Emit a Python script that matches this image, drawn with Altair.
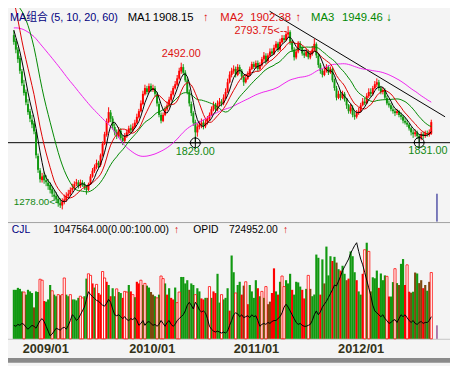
import altair as alt
import pandas as pd

W, H = 450, 358
SX, SY = W / 458, H / 366

# ---------------- data (weekly bars) ----------------
# closes of the weeks before the first visible bar (only feed the moving averages)
pre_closes = [2560, 2590, 2620, 2600, 2650, 2700, 2680, 2720, 2760, 2740,
              2780, 2800, 2770, 2740, 2700, 2720, 2680, 2650, 2620, 2640,
              2600, 2580, 2610, 2650, 2690, 2720, 2700, 2680, 2660, 2700,
              2740, 2760, 2730, 2700, 2680, 2650, 2670, 2700, 2720, 2690,
              2660, 2700, 2760, 2820, 2880,
              2950, 3000, 3100, 3200, 3300, 3350, 3350, 3300, 3200, 3050,
              2900, 2800, 2740, 2700]

opens = [2720, 2670, 2600, 2530, 2420, 2310, 2250, 2150, 2090, 2020,
         1990, 1920, 1720, 1600, 1520, 1560, 1520, 1500, 1480, 1445,
         1400, 1390, 1365, 1330, 1310, 1340, 1355, 1390, 1405, 1440,
         1450, 1490, 1500, 1470, 1500, 1490, 1465, 1440, 1485, 1550,
         1595, 1625, 1665, 1645, 1725, 1820, 1895, 2000, 2080, 2030,
         1960, 1915, 1880, 1930, 1870, 1845, 1880, 1915, 1950, 1930,
         1960, 1995, 2040, 2090, 2150, 2230, 2280, 2250, 2300, 2265,
         2280, 2230, 2150, 2060, 2010, 2060, 2105, 2135, 2185, 2230,
         2280, 2310, 2360, 2420, 2455, 2410, 2345, 2250, 2150, 2075,
         2000, 1915, 1960, 1975, 1995, 1965, 1995, 2025, 2060, 2105,
         2140, 2105, 2150, 2170, 2155, 2200, 2250, 2330, 2390, 2420,
         2440, 2390, 2455, 2425, 2375, 2330, 2360, 2390, 2440, 2480,
         2455, 2490, 2440, 2470, 2520, 2550, 2505, 2550, 2585, 2565,
         2615, 2650, 2600, 2660, 2695, 2680, 2725, 2745, 2665, 2600,
         2535, 2585, 2650, 2615, 2570, 2550, 2585, 2535, 2565, 2600,
         2645, 2550, 2475, 2425, 2390, 2425, 2455, 2410, 2440, 2345,
         2280, 2200, 2235, 2200, 2235, 2185, 2140, 2090, 2120, 2060,
         2045, 2075, 2090, 2140, 2170, 2155, 2215, 2250, 2235, 2280,
         2310, 2330, 2280, 2250, 2265, 2200, 2155, 2140, 2105, 2090,
         2075, 2090, 2060, 2045, 2010, 1995, 1980, 1950, 1915, 1900,
         1915, 1885, 1870, 1900, 1885, 1910, 1900, 1905]

highs = [2760, 2690, 2620, 2550, 2440, 2350, 2270, 2190, 2110, 2060,
         2010, 1940, 1740, 1620, 1580, 1590, 1560, 1530, 1500, 1470,
         1440, 1420, 1390, 1370, 1370, 1400, 1420, 1440, 1460, 1490,
         1510, 1530, 1520, 1525, 1520, 1505, 1480, 1500, 1570, 1620,
         1650, 1690, 1680, 1740, 1840, 1920, 2030, 2123, 2100, 2050,
         1990, 1940, 1960, 1950, 1890, 1910, 1940, 1970, 1980, 1990,
         2020, 2070, 2110, 2180, 2260, 2310, 2300, 2320, 2320, 2310,
         2300, 2250, 2170, 2080, 2080, 2130, 2170, 2210, 2260, 2300,
         2340, 2390, 2450, 2492, 2480, 2430, 2360, 2270, 2170, 2090,
         2020, 1990, 2010, 2030, 2020, 2020, 2050, 2080, 2130, 2170,
         2160, 2180, 2200, 2190, 2230, 2280, 2360, 2420, 2450, 2470,
         2460, 2480, 2475, 2440, 2390, 2390, 2420, 2460, 2500, 2500,
         2510, 2510, 2495, 2540, 2580, 2570, 2570, 2610, 2610, 2640,
         2670, 2665, 2690, 2720, 2720, 2750, 2793.75, 2760, 2680, 2620,
         2610, 2670, 2670, 2630, 2600, 2610, 2600, 2590, 2630, 2690,
         2660, 2570, 2490, 2440, 2450, 2480, 2470, 2460, 2450, 2360,
         2300, 2260, 2260, 2260, 2250, 2200, 2150, 2150, 2140, 2090,
         2100, 2120, 2160, 2200, 2200, 2240, 2280, 2280, 2300, 2340,
         2362, 2350, 2300, 2290, 2280, 2220, 2180, 2160, 2130, 2110,
         2110, 2100, 2080, 2060, 2040, 2020, 1990, 1960, 1940, 1940,
         1930, 1900, 1920, 1920, 1930, 1930, 1940, 2020]

lows = [2640, 2570, 2490, 2400, 2300, 2220, 2140, 2060, 2000, 1950,
        1900, 1700, 1580, 1500, 1500, 1490, 1470, 1440, 1410, 1380,
        1350, 1330, 1300, 1290, 1278, 1320, 1340, 1370, 1390, 1420,
        1440, 1470, 1450, 1455, 1465, 1440, 1400, 1430, 1480, 1540,
        1580, 1610, 1620, 1630, 1715, 1810, 1880, 1990, 2000, 1940,
        1890, 1860, 1870, 1850, 1810, 1830, 1870, 1900, 1910, 1920,
        1950, 1985, 2030, 2080, 2140, 2220, 2230, 2240, 2250, 2250,
        2210, 2130, 2040, 1990, 2000, 2050, 2090, 2120, 2170, 2220,
        2270, 2300, 2350, 2400, 2390, 2330, 2230, 2130, 2050, 1970,
        1829, 1880, 1940, 1950, 1940, 1950, 1980, 2010, 2050, 2090,
        2080, 2090, 2130, 2130, 2140, 2190, 2240, 2320, 2370, 2400,
        2370, 2380, 2400, 2350, 2300, 2320, 2350, 2380, 2430, 2440,
        2440, 2420, 2430, 2460, 2500, 2480, 2490, 2540, 2550, 2555,
        2600, 2580, 2590, 2650, 2660, 2670, 2700, 2640, 2580, 2510,
        2520, 2570, 2600, 2550, 2530, 2540, 2520, 2520, 2550, 2590,
        2530, 2450, 2400, 2370, 2380, 2410, 2390, 2400, 2330, 2260,
        2180, 2190, 2180, 2190, 2170, 2110, 2070, 2070, 2040, 2020,
        2030, 2060, 2080, 2130, 2140, 2150, 2200, 2210, 2220, 2270,
        2290, 2260, 2230, 2230, 2190, 2140, 2120, 2090, 2070, 2050,
        2060, 2040, 2020, 1990, 1980, 1960, 1930, 1890, 1870, 1880,
        1860, 1831, 1850, 1860, 1870, 1880, 1880, 1895]

closes = [2664, 2600, 2521, 2425, 2322, 2242, 2163, 2083, 2028, 1980,
          1924, 1726, 1606, 1527, 1551, 1519, 1503, 1471, 1439, 1408,
          1384, 1360, 1328, 1312, 1344, 1360, 1392, 1408, 1439, 1455,
          1487, 1503, 1471, 1503, 1487, 1463, 1439, 1487, 1551, 1598,
          1630, 1662, 1646, 1726, 1821, 1900, 2004, 2083, 2028, 1964,
          1916, 1885, 1932, 1869, 1845, 1885, 1916, 1948, 1932, 1964,
          1996, 2044, 2091, 2155, 2234, 2282, 2250, 2298, 2266, 2282,
          2234, 2155, 2060, 2012, 2060, 2107, 2139, 2187, 2234, 2282,
          2314, 2362, 2425, 2457, 2409, 2346, 2250, 2155, 2075, 1996,
          1916, 1964, 1980, 1996, 1964, 1996, 2028, 2060, 2107, 2139,
          2107, 2155, 2171, 2155, 2203, 2250, 2330, 2393, 2425, 2441,
          2393, 2457, 2425, 2378, 2330, 2362, 2393, 2441, 2481, 2457,
          2489, 2441, 2473, 2521, 2552, 2504, 2552, 2584, 2568, 2616,
          2648, 2600, 2664, 2696, 2680, 2728, 2743, 2664, 2600, 2537,
          2584, 2648, 2616, 2568, 2552, 2584, 2537, 2568, 2600, 2648,
          2552, 2473, 2425, 2393, 2425, 2457, 2409, 2441, 2346, 2282,
          2203, 2234, 2203, 2234, 2187, 2139, 2091, 2123, 2060, 2044,
          2075, 2091, 2139, 2171, 2155, 2218, 2250, 2234, 2282, 2314,
          2330, 2282, 2250, 2266, 2203, 2155, 2139, 2107, 2091, 2075,
          2091, 2060, 2044, 2012, 1996, 1980, 1948, 1916, 1900, 1916,
          1885, 1869, 1900, 1885, 1908, 1900, 1916, 2000]

# volume (thousand lots) and how each volume bar is drawn
volume_k = [774, 774, 805, 789, 749, 739, 698, 774, 749, 723,
            496, 749, 739, 941, 926, 597, 587, 622, 850, 759,
            698, 673, 698, 688, 698, 961, 698, 673, 698, 622,
            622, 607, 647, 673, 647, 673, 951, 1027, 1002, 875,
            810, 860, 723, 698, 1063, 961, 901, 850, 673, 799,
            673, 789, 739, 723, 647, 749, 739, 850, 749, 698,
            658, 901, 875, 926, 850, 875, 840, 810, 739, 698,
            673, 647, 698, 992, 951, 875, 698, 799, 647, 622,
            810, 572, 739, 977, 977, 875, 926, 774, 875, 850,
            698, 799, 749, 638, 622, 647, 647, 825, 647, 749,
            723, 1027, 572, 698, 622, 647, 799, 445, 1316, 1052,
            724, 850, 901, 698, 840, 901, 547, 850, 749, 647,
            926, 799, 673, 749, 647, 825, 547, 587, 724, 1113,
            749, 698, 901, 992, 825, 926, 875, 1027, 774, 698,
            901, 891, 825, 774, 638, 789, 1002, 789, 673, 700,
            1331, 1280, 698, 1255, 875, 1457, 1002, 1305, 1230, 1295,
            1204, 1100, 1078, 1154, 1027, 926, 951, 1381, 1305, 1052,
            926, 749, 698, 1027, 1407, 1518, 1381, 749, 972, 956,
            1078, 805, 1032, 926, 1002, 987, 668, 668, 896, 1108,
            880, 850, 1184, 1260, 850, 1169, 744, 729, 744, 1047,
            1032, 880, 926, 800, 850, 760, 900, 1047]

# G green, H hollow red, R filled red, B brown
volume_kind = list("GGGGGHGGGG" "BGGHHRGGGH" "GGHBHHGGHG" "GGGHHGGHHR"
                   "GHRRHHRGRG" "GHGGRHHGRH" "GRRHGHGGBB" "GHGHHGRGRR"
                   "GHHGGGGBGG" "HGGRRGBHGR" "RGGHGGGRGG" "HGGRBHRGGG"
                   "GRGHGHBBRR" "GRGHHGGGRG" "GGGRRGHBGG" "GGRGBGGGRG"
                   "BGRGGBRGGG" "RGGRHGHBGG" "GRGGGHRGGH" "GBGGRHRBGB"
                   "GBBRBGBH")

# open interest (thousand lots)
opid_k = [441, 410, 472, 441, 504, 472, 378, 315, 378, 441,
          410, 347, 472, 599, 662, 567, 410, 252, 95, 158,
          252, 347, 315, 284, 347, 378, 315, 441, 599, 788,
          725, 599, 662, 788, 914, 1040, 1292, 1544, 1449, 1386,
          1323, 1260, 1229, 1166, 1103, 1071, 1166, 1292, 1197, 977,
          788, 756, 788, 725, 662, 725, 630, 599, 662, 630,
          693, 599, 441, 504, 599, 441, 536, 567, 504, 441,
          472, 410, 472, 599, 504, 410, 536, 599, 472, 410,
          472, 599, 662, 725, 788, 914, 1103, 1197, 1103, 977,
          1197, 1103, 945, 882, 914, 851, 662, 410, 315, 252,
          221, 252, 221, 189, 221, 189, 252, 441, 599, 788,
          851, 819, 725, 788, 693, 725, 756, 693, 788, 725,
          756, 599, 410, 472, 504, 472, 536, 504, 567, 599,
          599, 662, 725, 851, 1040, 1134, 1040, 914, 788, 662,
          536, 472, 504, 441, 410, 410, 441, 472, 599, 788,
          914, 788, 882, 1040, 1134, 1229, 1355, 1481, 1607, 1764,
          1733, 1890, 2048, 2237, 2363, 2489, 2615, 2804, 2930, 3056,
          3150, 2867, 2615, 2426, 2174, 1922, 1670, 1418, 1103, 914,
          851, 788, 725, 788, 662, 599, 504, 536, 599, 630,
          536, 662, 788, 725, 788, 693, 599, 536, 599, 504,
          472, 536, 567, 504, 536, 536, 599, 725]

tick_labels = ["2009/01", "2010/01", "2011/01", "2012/01"]
tick_pos = [15.8, 68.6, 120.3, 172.2]

support_level = [1830]
trend_idx = [126.8, 213.85]
trend_price = [2918, 2044]

mark_idx = [90, 201]
mark_price = [1829, 1831]

ma_names = ["MA1", "MA2", "MA3"]
ma_values = ["1908.15", "1902.38", "1949.46"]
ma_arrows = ["\u2191", "\u2191", "\u2193"]
ma_windows = [60, 20, 10, 5]

n = len(closes)
for lst in (opens, highs, lows, volume_k, volume_kind, opid_k):
    assert len(lst) == n, len(lst)

# ---------------- styles ----------------
RED = "#ff0000"
GREEN = "#119911"
BROWN = "#7d4a0f"
NAVY = "#000080"
LABEL_RED = "#dd1111"
LABEL_GREEN = "#118811"
MA_COLORS = {60: "#ee22ee", 20: "#008800", 10: "#dd0000", 5: "#000000"}
KIND_COLOR = {"G": GREEN, "H": RED, "R": RED, "B": BROWN}
FONT = "Liberation Sans, Noto Sans CJK SC"

bars = pd.DataFrame({"i": list(range(n)), "o": opens, "h": highs, "l": lows,
                     "c": closes, "vol": volume_k, "kind": volume_kind,
                     "opid": opid_k})
bars["col"] = [RED if c >= o else GREEN for o, c in zip(opens, closes)]
bars["vcol"] = [KIND_COLOR[k] for k in volume_kind]

ma_src = pd.DataFrame({"i": list(range(-len(pre_closes), 0)) + list(range(n)),
                       "c": pre_closes + closes})

x_scale = alt.Scale(domain=[-0.468, 213.85], nice=False, zero=False)
p_scale = alt.Scale(domain=[8.45, 2918.15], nice=False, zero=False)
v_scale = alt.Scale(domain=[-379.5, 5176.4], nice=False, zero=False)
o_scale = alt.Scale(domain=[-787.5, 10741.5], nice=False, zero=False)

X = alt.X("i:Q", scale=x_scale, axis=None)

layers = []

# panel separators and decorations
def hrule(y, color, width=1):
    return alt.Chart(pd.DataFrame({"k": [0]})).mark_rule(color=color, strokeWidth=width).encode(
        x=alt.value(0), x2=alt.value(W), y=alt.value(y))

layers.append(hrule(220 * SY, "#a0a0a0"))
layers.append(hrule(341.5 * SY, "#c4c4c4"))
layers.append(alt.Chart(pd.DataFrame({"k": [0]})).mark_rect(color="#8a8a8a").encode(
    x=alt.value(0), x2=alt.value(W), y=alt.value(361 * SY), y2=alt.value(H)))

# support and trend lines
layers.append(alt.Chart(pd.DataFrame({"level": support_level})).mark_rule(color="black", strokeWidth=1).encode(
    x=alt.value(0), x2=alt.value(W), y=alt.Y("level:Q", scale=p_scale, axis=None)))
layers.append(alt.Chart(pd.DataFrame({"i": trend_idx, "p": trend_price})).mark_line(color="black", strokeWidth=1).encode(
    X, y=alt.Y("p:Q", scale=p_scale, axis=None)))

# volume bars
layers.append(alt.Chart(bars).transform_filter("datum.kind != 'H'").mark_bar(size=2.2).encode(
    X, y=alt.Y("vol:Q", scale=v_scale, axis=None), y2=alt.datum(0),
    color=alt.Color("vcol:N", scale=None)))
layers.append(alt.Chart(bars).transform_filter("datum.kind == 'H'").mark_bar(
    size=2.2, fill="#ffffff", stroke=RED, strokeWidth=0.8).encode(
    X, y=alt.Y("vol:Q", scale=v_scale, axis=None), y2=alt.datum(0)))
# open interest line
layers.append(alt.Chart(bars).mark_line(color="black", strokeWidth=1).encode(
    X, y=alt.Y("opid:Q", scale=o_scale, axis=None)))

# candles
layers.append(alt.Chart(bars).mark_rule(strokeWidth=1).encode(
    X, y=alt.Y("l:Q", scale=p_scale, axis=None), y2="h:Q",
    color=alt.Color("col:N", scale=None)))
layers.append(alt.Chart(bars).mark_bar(size=2).encode(
    X, y=alt.Y("o:Q", scale=p_scale, axis=None), y2="c:Q",
    color=alt.Color("col:N", scale=None)))

# moving averages
for w in ma_windows:
    layers.append(alt.Chart(ma_src).transform_window(
        val="mean(c)", frame=[-(w - 1), 0], sort=[alt.SortField("i")]
    ).transform_filter("datum.i >= 0").mark_line(color=MA_COLORS[w], strokeWidth=1).encode(
        X, y=alt.Y("val:Q", scale=p_scale, axis=None)))

# low markers
marks_df = pd.DataFrame({"i": mark_idx, "p": mark_price})
layers.append(alt.Chart(marks_df).mark_point(shape="circle", size=100, filled=False, color="black",
                                               strokeWidth=1, opacity=1).encode(
    X, y=alt.Y("p:Q", scale=p_scale, axis=None)))
layers.append(alt.Chart(marks_df).mark_point(shape="M-1,0L1,0M0,-1L0,1", size=150, filled=False,
                                               color="black", strokeWidth=1, opacity=1).encode(
    X, y=alt.Y("p:Q", scale=p_scale, axis=None)))

# price annotations anchored to bars
def ann(i, p, text, color, align, dx, dy, size=11):
    return alt.Chart(pd.DataFrame({"i": [i], "p": [p], "t": [text]})).mark_text(
        align=align, baseline="middle", dx=dx, dy=dy, color=color, fontSize=size, font=FONT).encode(
        X, y=alt.Y("p:Q", scale=p_scale, axis=None), text="t:N")

layers.append(ann(83, highs[83], "%.2f" % highs[83], LABEL_RED, "center", 0, -9))
layers.append(ann(136, highs[136], "%.2f<--" % highs[136], LABEL_RED, "right", -1, 5))
layers.append(ann(24, lows[24], "%.2f<-" % lows[24], LABEL_GREEN, "right", -4, -7, 10))
layers.append(ann(90, lows[90], "%.2f" % lows[90], LABEL_GREEN, "center", 0, 9))
layers.append(ann(201, lows[201], "%.2f" % lows[201], LABEL_GREEN, "left", -11, 9))

# cursor marks
def vseg(x, y1, y2, color):
    return alt.Chart(pd.DataFrame({"k": [0]})).mark_rule(color=color, strokeWidth=1).encode(
        x=alt.value(x), y=alt.value(y1), y2=alt.value(y2))

layers.append(vseg(444.5 * SX, 190 * SY, 219 * SY, NAVY))
layers.append(vseg(444.5 * SX, 327 * SY, 341 * SY, "#660066"))

# header texts
def txt(s, x, y, color, size=11.5, weight="normal", align="left"):
    return alt.Chart(pd.DataFrame({"t": [s]})).mark_text(
        align=align, baseline="middle", fontSize=size, fontWeight=weight, color=color, font=FONT).encode(
        text="t:N", x=alt.value(x), y=alt.value(y))

hy = 7 * SY
layers.append(txt("MA\u7ec4\u5408 (5, 10, 20, 60)", 2 * SX, hy, NAVY, 11))
name_x = [124, 220, 314]
val_x = [150, 251, 346]
arr_x = [202, 298, 392]
name_col = ["#000000", LABEL_RED, "#008800"]
arr_col = [LABEL_RED, LABEL_RED, "#008800"]
for k in range(3):
    layers.append(txt(ma_names[k], name_x[k] * SX, hy, name_col[k]))
    layers.append(txt(ma_values[k], val_x[k] * SX, hy, name_col[k]))
    layers.append(txt(ma_arrows[k], arr_x[k] * SX, hy, arr_col[k]))

vy = 228 * SY
layers.append(txt("CJL", 4 * SX, vy, NAVY, 10.5))
layers.append(txt("1047564.00(0.00:100.00)", 47 * SX, vy, "#000000", 10.5))
layers.append(txt("\u2191", 172 * SX, vy, LABEL_RED, 10.5))
layers.append(txt("OPID", 192 * SX, vy, "#000000", 10.5))
layers.append(txt("724952.00", 229 * SX, vy, "#000000", 10.5))
layers.append(txt("\u2191", 285 * SX, vy, LABEL_RED, 10.5))

# date labels
layers.append(alt.Chart(pd.DataFrame({"pos": tick_pos, "lab": tick_labels})).mark_text(
    align="center", baseline="middle", fontSize=13, fontWeight="bold", color="#333319", font=FONT).encode(
    x=alt.X("pos:Q", scale=x_scale, axis=None), y=alt.value(352 * SY), text="lab:N"))

chart = alt.layer(*layers).resolve_scale(y="independent").properties(
    width=W, height=H, autosize=alt.AutoSizeParams(type="none"), padding=0,
    background="#f4f4f4"
).configure_view(stroke=None)

chart.save("out.html", embed_options={"renderer": "svg", "actions": False})
